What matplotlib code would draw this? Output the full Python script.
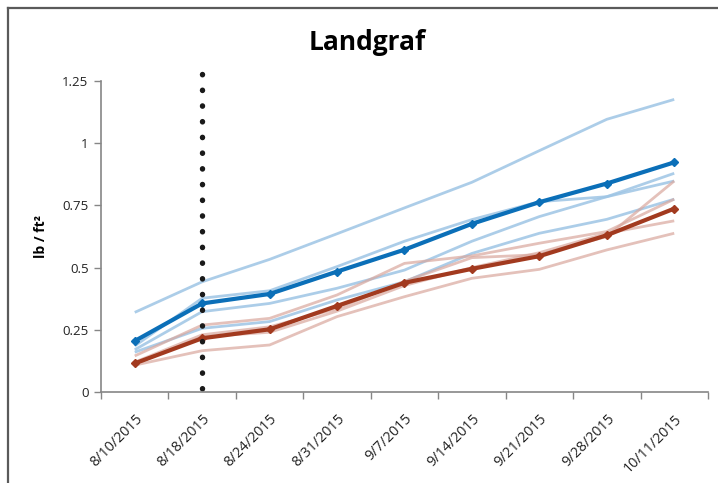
import matplotlib.pyplot as plt
from matplotlib.lines import Line2D

dates = ["8/10/2015", "8/18/2015", "8/24/2015", "8/31/2015", "9/7/2015",
         "9/14/2015", "9/21/2015", "9/28/2015", "10/11/2015"]

# highlighted series
main_blue = [0.205, 0.356, 0.394, 0.484, 0.572, 0.676, 0.763, 0.838, 0.923]
main_red = [0.115, 0.216, 0.252, 0.346, 0.439, 0.495, 0.546, 0.630, 0.737]

# faint background series
light_blue = [
    [0.320, 0.443, 0.533, 0.636, 0.740, 0.843, 0.970, 1.096, 1.176],
    [0.185, 0.377, 0.407, 0.504, 0.606, 0.693, 0.765, 0.785, 0.848],
    [0.170, 0.323, 0.356, 0.417, 0.490, 0.606, 0.705, 0.785, 0.879],
    [0.160, 0.256, 0.283, 0.370, 0.443, 0.557, 0.638, 0.694, 0.775],
]
light_red = [
    [0.145, 0.269, 0.296, 0.390, 0.517, 0.547, 0.598, 0.645, 0.775],
    [0.120, 0.230, 0.262, 0.335, 0.445, 0.540, 0.552, 0.625, 0.848],
    [0.112, 0.222, 0.240, 0.325, 0.428, 0.500, 0.560, 0.638, 0.688],
    [0.108, 0.166, 0.189, 0.303, 0.383, 0.457, 0.493, 0.571, 0.638],
]
marker_date = 1  # index of the dotted reference line

plt.rcParams['font.family'] = ['Open Sans', 'DejaVu Sans']

fig = plt.figure(figsize=(7.18, 4.83), dpi=100)
ax = fig.add_axes([0.1407, 0.1884, 0.8453, 0.6439])

x = list(range(len(dates)))
for s in light_blue:
    ax.plot(x, s, color='#9ec5e5', lw=2.0, alpha=0.85, solid_capstyle='butt')
for s in light_red:
    ax.plot(x, s, color='#d9a79d', lw=2.0, alpha=0.7, solid_capstyle='butt')

ax.plot(x, main_blue, color='#0b6fb8', lw=3.0, marker='D', ms=4.5)
ax.plot(x, main_red, color='#a23a1f', lw=3.0, marker='D', ms=4.5)

# dotted vertical line (drawn top-down so the top dot sits above 1.25)
ax.plot([marker_date, marker_date], [1.278, 0.005], color='#1a1a1a', lw=3.9,
        linestyle=(0, (0.05, 2.85)), dash_capstyle='round', clip_on=False)

ax.set_xlim(-0.5, len(dates) - 0.5)
ax.set_ylim(0, 1.25)
ax.set_yticks([0, 0.25, 0.5, 0.75, 1, 1.25])
ax.set_yticklabels(['0', '0.25', '0.5', '0.75', '1', '1.25'], fontsize=9.5, color='#222222')
ax.set_xticks(x)
ax.set_xticklabels(dates, rotation=45, ha='right', rotation_mode='anchor',
                   fontsize=10.3, color='#222222')
ax.tick_params(axis='x', length=0, pad=14)
ax.set_xticks([i - 0.5 for i in range(len(dates) + 1)], minor=True)
ax.tick_params(axis='x', which='minor', length=5, color='#868686', width=1)
ax.tick_params(axis='y', length=5, color='#868686', width=1, pad=4)

for edge in ['top', 'right']:
    ax.spines[edge].set_visible(False)
for edge in ['left', 'bottom']:
    ax.spines[edge].set_color('#868686')
    ax.spines[edge].set_linewidth(1.2)

ax.set_ylabel('lb / ft²', fontsize=10, fontweight='bold', labelpad=10)
fig.text(0.511, 0.913, 'Landgraf', fontsize=19, fontweight='bold',
         ha='center', va='center')

# chart frame (top and left edges visible)
fig.add_artist(Line2D([8 / 718, 1], [1 - 8 / 483, 1 - 8 / 483], color='#5a5a5a', lw=1.6,
                      transform=fig.transFigure))
fig.add_artist(Line2D([8 / 718, 8 / 718], [0, 1 - 8 / 483], color='#5a5a5a', lw=1.6,
                      transform=fig.transFigure))

fig.savefig('out.png', dpi=100)
